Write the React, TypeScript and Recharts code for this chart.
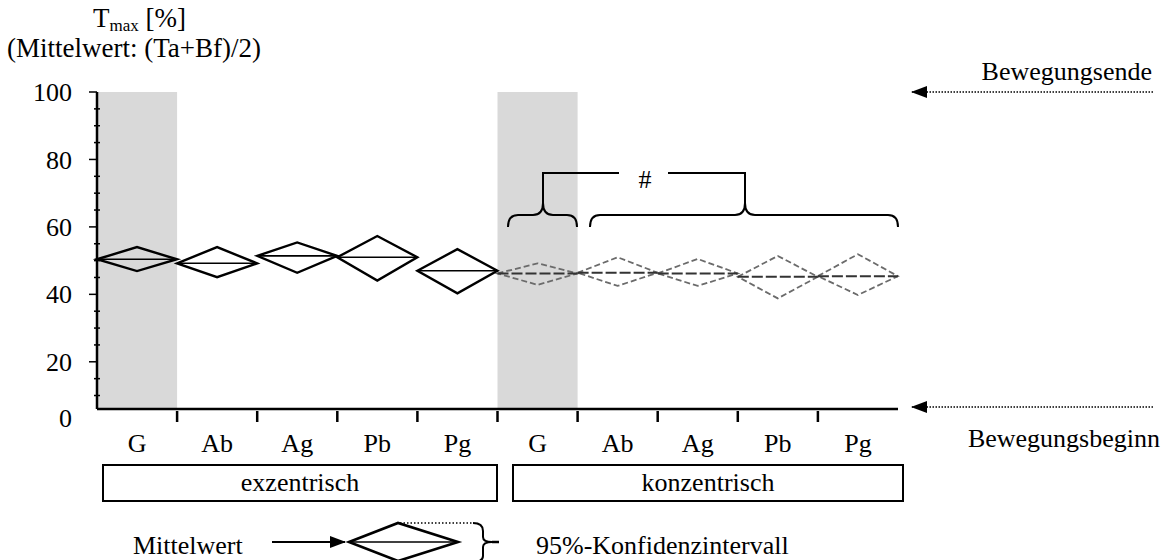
import React from 'react';
import { ComposedChart, Bar, XAxis, YAxis, ReferenceArea } from 'recharts';

// conditions on the x axis: five per contraction type
const categories = ['G', 'Ab', 'Ag', 'Pb', 'Pg', 'G', 'Ab', 'Ag', 'Pb', 'Pg'];
const groups = ['exzentrisch', 'exzentrisch', 'exzentrisch', 'exzentrisch', 'exzentrisch',
  'konzentrisch', 'konzentrisch', 'konzentrisch', 'konzentrisch', 'konzentrisch'];

// T_max in % of movement duration: mean and 95% confidence interval
const meanValues = [50.4, 49.2, 51.4, 51.0, 47.0, 46.2, 46.4, 46.2, 45.2, 45.4];
const ciLower = [46.9, 45.1, 46.4, 44.1, 40.3, 42.8, 42.5, 42.5, 38.8, 39.8];
const ciUpper = [54.0, 54.0, 55.4, 57.3, 53.4, 49.2, 51.0, 50.5, 51.4, 51.9];

// y axis: labelled major ticks, small minor ticks every 5
const axisFloor = 6;
const majorTicks = [20, 40, 60, 80, 100];
const minorTicks = [10, 15, 25, 30, 35, 45, 50, 55, 65, 70, 75, 85, 90, 95];

const shadedIds = ['exzentrisch-0', 'konzentrisch-5'];

const data = categories.map((c, i) => ({
  id: `${groups[i]}-${i}`,
  label: c,
  group: groups[i],
  mean: meanValues[i],
  ci: [ciLower[i], ciUpper[i]],
}));

const FONT = 'Liberation Serif, Times New Roman, serif';
const Y_TICK_SIZE = 8;
const Y_TICK_MARGIN = 17;

function Diamond(props: any) {
  const { x, y, width, height, payload } = props;
  const top = Math.min(y, y + height);
  const bottom = Math.max(y, y + height);
  const [lo, hi] = payload.ci;
  const my = top + ((bottom - top) * (hi - payload.mean)) / (hi - lo);
  const cx = x + width / 2;
  const x1 = x + width;
  const pts = `${x},${my} ${cx},${top} ${x1},${my} ${cx},${bottom}`;
  if (payload.group === 'exzentrisch') {
    return (
      <g>
        <polygon points={pts} fill="none" stroke="#000" strokeWidth={2.4} strokeLinejoin="miter" />
        <line x1={x} y1={my} x2={x1} y2={my} stroke="#000" strokeWidth={1.6} />
      </g>
    );
  }
  return (
    <g>
      <polygon points={pts} fill="none" stroke="#6b6b6b" strokeWidth={1.8} strokeDasharray="6 3" />
      <line x1={x} y1={my} x2={x1} y2={my} stroke="#333" strokeWidth={2} strokeDasharray="11 3" />
    </g>
  );
}

function YTick(props: any) {
  const { x, y, payload } = props;
  const v = payload.value;
  const ax = x + Y_TICK_SIZE + Y_TICK_MARGIN;
  if (minorTicks.includes(v)) {
    return <line x1={ax - 3} y1={y} x2={ax + 3} y2={y} stroke="#000" strokeWidth={1.5} />;
  }
  const isFloor = v === axisFloor;
  return (
    <g>
      {!isFloor && <line x1={ax - Y_TICK_SIZE} y1={y} x2={ax} y2={y} stroke="#000" strokeWidth={1.5} />}
      <text x={x} y={isFloor ? y + 9 : y} dy="0.35em" textAnchor="end" fontFamily={FONT} fontSize={26} fill="#000">
        {isFloor ? '0' : v}
      </text>
    </g>
  );
}

function XTick(props: any) {
  const { x, y, payload, index, width, visibleTicksCount } = props;
  const band = width / visibleTicksCount;
  const left = x - band / 2;
  return (
    <g>
      {index > 0 && <line x1={left} y1={y + 2} x2={left} y2={y + 13} stroke="#000" strokeWidth={2.5} />}
      <text x={x} y={y + 43} textAnchor="middle" fontFamily={FONT} fontSize={26} fill="#000">
        {data[index] ? data[index].label : payload.value}
      </text>
    </g>
  );
}

function Brace({ xa, xb, xt, tipY, bodyY, endY }: { xa: number; xb: number; xt: number; tipY: number; bodyY: number; endY: number }) {
  const r = 10;
  const d = `M${xa},${endY} Q${xa},${bodyY} ${xa + r},${bodyY} L${xt - r},${bodyY} Q${xt},${bodyY} ${xt},${tipY} Q${xt},${bodyY} ${xt + r},${bodyY} L${xb - r},${bodyY} Q${xb},${bodyY} ${xb},${endY}`;
  return <path d={d} fill="none" stroke="#000" strokeWidth={2} />;
}

function Annotations() {
  const t = { fontFamily: FONT, fontSize: 26, fill: '#000' };
  return (
    <svg width={1165} height={560} style={{ position: 'absolute', left: 0, top: 0, pointerEvents: 'none' }}>
      <defs>
        <marker id="headBig" markerWidth="16" markerHeight="12" refX="15" refY="6" orient="auto" markerUnits="userSpaceOnUse">
          <path d="M0,0 L16,6 L0,12 z" fill="#000" />
        </marker>
      </defs>

      {/* axis title */}
      <text x={93} y={27} {...t} fontSize={27}>
        <tspan>T</tspan>
        <tspan fontSize={17} dy={4}>max</tspan>
        <tspan dy={-4}> [%]</tspan>
      </text>
      <text x={7} y={57} {...t} fontSize={27}>(Mittelwert: (Ta+Bf)/2)</text>

      {/* movement start / end markers */}
      <line x1={1153} y1={92} x2={912} y2={92} stroke="#000" strokeWidth={1.5} strokeDasharray="1.5 1.5" markerEnd="url(#headBig)" />
      <text x={1152} y={80} textAnchor="end" {...t}>Bewegungsende</text>
      <line x1={1153} y1={407} x2={912} y2={407} stroke="#000" strokeWidth={1.5} strokeDasharray="1.5 1.5" markerEnd="url(#headBig)" />
      <text x={1160} y={447} textAnchor="end" {...t}>Bewegungsbeginn</text>

      {/* significance bracket */}
      <polyline points="543,203 543,173 619,173" fill="none" stroke="#000" strokeWidth={2} />
      <polyline points="668,173 745,173 745,203" fill="none" stroke="#000" strokeWidth={2} />
      <text x={645} y={188} textAnchor="middle" {...t}>#</text>
      <Brace xa={508} xb={577} xt={543} tipY={203} bodyY={215} endY={227} />
      <Brace xa={590} xb={898} xt={745} tipY={203} bodyY={215} endY={227} />

      {/* group boxes */}
      <rect x={103} y={465} width={394} height={36} fill="none" stroke="#000" strokeWidth={2} />
      <text x={300} y={491} textAnchor="middle" {...t}>exzentrisch</text>
      <rect x={513} y={465} width={390} height={36} fill="none" stroke="#000" strokeWidth={2} />
      <text x={708} y={491} textAnchor="middle" {...t}>konzentrisch</text>

      {/* legend */}
      <text x={133} y={554} {...t}>Mittelwert</text>
      <line x1={272} y1={542} x2={345} y2={542} stroke="#000" strokeWidth={2} markerEnd="url(#headBig)" />
      <polygon points="349,542 398,523 458,542 398,561" fill="none" stroke="#000" strokeWidth={2.6} />
      <line x1={349} y1={542} x2={458} y2={542} stroke="#000" strokeWidth={1.5} />
      <line x1={400} y1={523} x2={472} y2={523} stroke="#000" strokeWidth={1.5} strokeDasharray="1.5 2" />
      <path d="M473,523 Q483,523 483,531 L483,537 Q483,542 492,542 Q483,542 483,547 L483,556 Q483,562 473,562" fill="none" stroke="#000" strokeWidth={2} />
      <line x1={492} y1={542} x2={499} y2={542} stroke="#000" strokeWidth={2.5} />
      <text x={536} y={554} {...t}>95%-Konfidenzintervall</text>
    </svg>
  );
}

export default function App() {
  return (
    <div style={{ position: 'absolute', left: 0, top: 0, width: 1165, height: 560, background: '#fff' }}>
      <ComposedChart
        width={1165}
        height={560}
        data={data}
        barCategoryGap={0}
        margin={{ top: 92, right: 267, bottom: 91, left: 37 }}
      >
        {shadedIds.map((id) => (
          <ReferenceArea key={id} x1={id} x2={id} y1={axisFloor} y2={100} fill="#d9d9d9" fillOpacity={1} stroke="none" />
        ))}
        <XAxis
          dataKey="id"
          height={60}
          tickSize={0}
          tickMargin={0}
          interval={0}
          tickLine={false}
          axisLine={{ stroke: '#000', strokeWidth: 2.5 }}
          tick={<XTick />}
        />
        <YAxis
          type="number"
          domain={[axisFloor, 100]}
          ticks={[axisFloor, ...minorTicks, ...majorTicks].sort((a, b) => a - b)}
          interval={0}
          width={60}
          tickSize={Y_TICK_SIZE}
          tickMargin={Y_TICK_MARGIN}
          tickLine={false}
          axisLine={{ stroke: '#000', strokeWidth: 2.5 }}
          tick={<YTick />}
          allowDataOverflow
        />
        <Bar dataKey="ci" shape={<Diamond />} isAnimationActive={false} />
        <ReferenceArea fill="none" stroke="#000" strokeWidth={2.5} fillOpacity={0} />
      </ComposedChart>
      <Annotations />
    </div>
  );
}
